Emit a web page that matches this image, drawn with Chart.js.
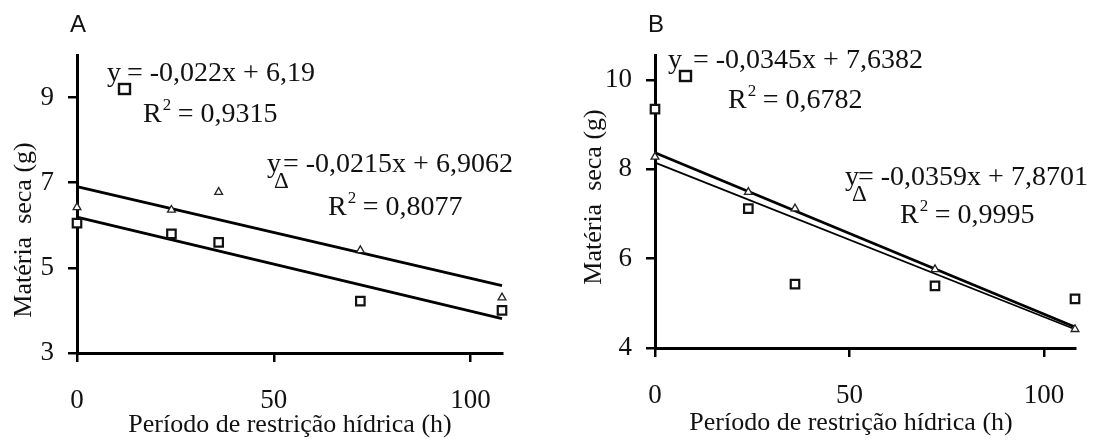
<!DOCTYPE html>
<html lang="pt">
<head>
  <meta charset="UTF-8" />
  <title>Matéria seca - Período de restrição hídrica</title>
  <script src="https://cdn.jsdelivr.net/npm/chart.js"></script>
  <style>
    body { margin: 0; background: #fff; }
    .panel { position: absolute; top: 0; width: 547px; height: 441px; }
    #panelA { left: 0; }
    #panelB { left: 547px; }
  </style>
</head>
<body>
  <div class="panel" id="panelA"><canvas id="chartA" width="547" height="441"></canvas></div>
  <div class="panel" id="panelB"><canvas id="chartB" width="547" height="441"></canvas></div>

  <script>
    // dados
    const hours = [0, 24, 36, 72, 108];
    const xTicks = [0, 50, 100];

    const squaresA = [6.05, 5.8, 5.6, 4.22, 4.0];
    const trianglesA = [6.42, 6.36, 6.78, 5.41, 4.3];
    const fitHours = [0, 108];
    const fitSquaresA = [6.19, 3.81];
    const fitTrianglesA = [6.91, 4.58];
    const yTicksA = [3, 5, 7, 9];

    const squaresB = [9.35, 7.12, 5.43, 5.39, 5.1];
    const trianglesB = [8.28, 7.49, 7.12, 5.76, 4.42];
    const fitSquaresB = [8.15, 4.42];
    const fitTrianglesB = [8.37, 4.47];
    const yTicksB = [4, 6, 8, 10];

    const eqSquareA = '= -0,022x + 6,19';
    const r2SquareA = '0,9315';
    const eqTriangleA = '= -0,0215x + 6,9062';
    const r2TriangleA = '0,8077';
    const eqSquareB = '= -0,0345x + 7,6382';
    const r2SquareB = '0,6782';
    const eqTriangleB = '= -0,0359x + 7,8701';
    const r2TriangleB = '0,9995';

    const xTitle = 'Período de restrição hídrica (h)';
    const yTitle = 'Matéria  seca (g)';

    const SERIF = "'Liberation Serif', 'Times New Roman', serif";
    const INK = '#111';

    const pts = (xs, ys) => xs.map((x, i) => ({ x: x, y: ys[i] }));

    function drawY(ctx, x, y, marker) {
      ctx.font = '28px ' + SERIF;
      ctx.fillText('y', x, y);
      if (marker === 'square') {
        ctx.lineWidth = 2.4;
        ctx.strokeRect(x + 12, y + 3, 11, 10);
      } else {
        ctx.font = '23px ' + SERIF;
        ctx.fillText('Δ', x + 7, y + 16);
      }
    }

    function drawR2(ctx, x, y, value) {
      ctx.font = '28px ' + SERIF;
      ctx.fillText('R', x, y);
      const w = ctx.measureText('R').width;
      ctx.font = '17px ' + SERIF;
      ctx.fillText('2', x + w + 1, y - 12);
      ctx.font = '28px ' + SERIF;
      ctx.fillText(' = ' + value, x + w + 9, y);
    }

    // textos: letra do painel, equações e títulos dos eixos
    function textPlugin(opt) {
      return {
        id: 'texts',
        afterDraw(chart) {
          const ctx = chart.ctx;
          ctx.save();
          ctx.fillStyle = INK;
          ctx.strokeStyle = INK;
          ctx.textBaseline = 'alphabetic';
          ctx.textAlign = 'left';

          ctx.font = "24px 'Liberation Sans', Arial, sans-serif";
          ctx.fillText(opt.letter, opt.letterX, 32);

          opt.eqs.forEach(e => {
            drawY(ctx, e.x, e.y, e.marker);
            ctx.font = '28px ' + SERIF;
            ctx.fillText(e.text, e.tx, e.y);
            drawR2(ctx, e.rx, e.ry, e.r2);
          });

          ctx.font = '26px ' + SERIF;
          ctx.textAlign = 'center';
          ctx.fillText(xTitle, opt.xTitleX, opt.xTitleY);

          ctx.translate(opt.yTitleX, opt.yTitleY);
          ctx.rotate(-Math.PI / 2);
          ctx.fillText(yTitle, 0, 0);
          ctx.restore();
        }
      };
    }

    function makeChart(id, opt) {
      const gridStyle = {
        drawOnChartArea: false,
        drawTicks: true,
        tickLength: 9,
        color: '#000',
        lineWidth: 2.5
      };
      return new Chart(document.getElementById(id), {
        type: 'scatter',
        data: {
          datasets: [
            {
              data: pts(hours, opt.squares),
              pointStyle: 'rect',
              pointRadius: 6,
              borderWidth: 2.2,
              borderColor: '#111',
              backgroundColor: '#fff',
              clip: false,
              order: 1
            },
            {
              data: pts(hours, opt.triangles),
              pointStyle: 'triangle',
              pointRadius: 4.5,
              borderWidth: 1.3,
              borderColor: '#222',
              backgroundColor: '#fff',
              clip: false,
              order: 1
            },
            {
              data: pts(fitHours, opt.fitSquares),
              showLine: true,
              borderColor: '#000',
              borderWidth: opt.fitSquareWidth,
              pointRadius: 0,
              clip: false,
              order: 2
            },
            {
              data: pts(fitHours, opt.fitTriangles),
              showLine: true,
              borderColor: '#000',
              borderWidth: 2.8,
              pointRadius: 0,
              clip: false,
              order: 2
            }
          ]
        },
        options: {
          responsive: false,
          animation: false,
          layout: { padding: { top: 55, right: opt.padRight, left: 0, bottom: 0 } },
          plugins: { legend: { display: false }, tooltip: { enabled: false } },
          scales: {
            x: {
              type: 'linear',
              min: 0,
              max: 108,
              afterBuildTicks: s => { s.ticks = xTicks.map(v => ({ value: v })); },
              afterFit: s => { s.height = opt.xHeight; },
              grid: gridStyle,
              border: { color: '#000', width: 3 },
              ticks: {
                color: INK,
                font: { family: SERIF, size: 27 },
                padding: 23,
                maxRotation: 0,
                autoSkip: false
              }
            },
            y: {
              type: 'linear',
              min: opt.yMin,
              max: opt.yMax,
              afterBuildTicks: s => { s.ticks = opt.yTicks.map(v => ({ value: v })); },
              afterFit: s => { s.width = opt.yWidth; },
              grid: gridStyle,
              border: { color: '#000', width: 3 },
              ticks: {
                color: INK,
                font: { family: SERIF, size: 27 },
                padding: 14,
                autoSkip: false
              }
            }
          }
        },
        plugins: [textPlugin(opt)]
      });
    }

    makeChart('chartA', {
      squares: squaresA,
      triangles: trianglesA,
      fitSquares: fitSquaresA,
      fitTriangles: fitTrianglesA,
      fitSquareWidth: 2.8,
      yTicks: yTicksA,
      yMin: 3,
      yMax: 10,
      yWidth: 77,
      xHeight: 88,
      padRight: 45,
      letter: 'A',
      letterX: 70,
      xTitleX: 290,
      xTitleY: 432,
      yTitleX: 31,
      yTitleY: 230,
      eqs: [
        { marker: 'square', x: 107, y: 81, text: eqSquareA, tx: 127, rx: 143, ry: 122, r2: r2SquareA },
        { marker: 'triangle', x: 267, y: 172, text: eqTriangleA, tx: 283, rx: 328, ry: 215, r2: r2TriangleA }
      ]
    });

    makeChart('chartB', {
      squares: squaresB,
      triangles: trianglesB,
      fitSquares: fitSquaresB,
      fitTriangles: fitTrianglesB,
      fitSquareWidth: 1.8,
      yTicks: yTicksB,
      yMin: 4,
      yMax: 10.56,
      yWidth: 108,
      xHeight: 93,
      padRight: 19,
      letter: 'B',
      letterX: 101,
      xTitleX: 304,
      xTitleY: 430,
      yTitleX: 54,
      yTitleY: 197,
      eqs: [
        { marker: 'square', x: 121, y: 68, text: eqSquareB, tx: 146, rx: 181, ry: 108, r2: r2SquareB },
        { marker: 'triangle', x: 298, y: 185, text: eqTriangleB, tx: 311, rx: 353, ry: 223, r2: r2TriangleB }
      ]
    });
  </script>
</body>
</html>
